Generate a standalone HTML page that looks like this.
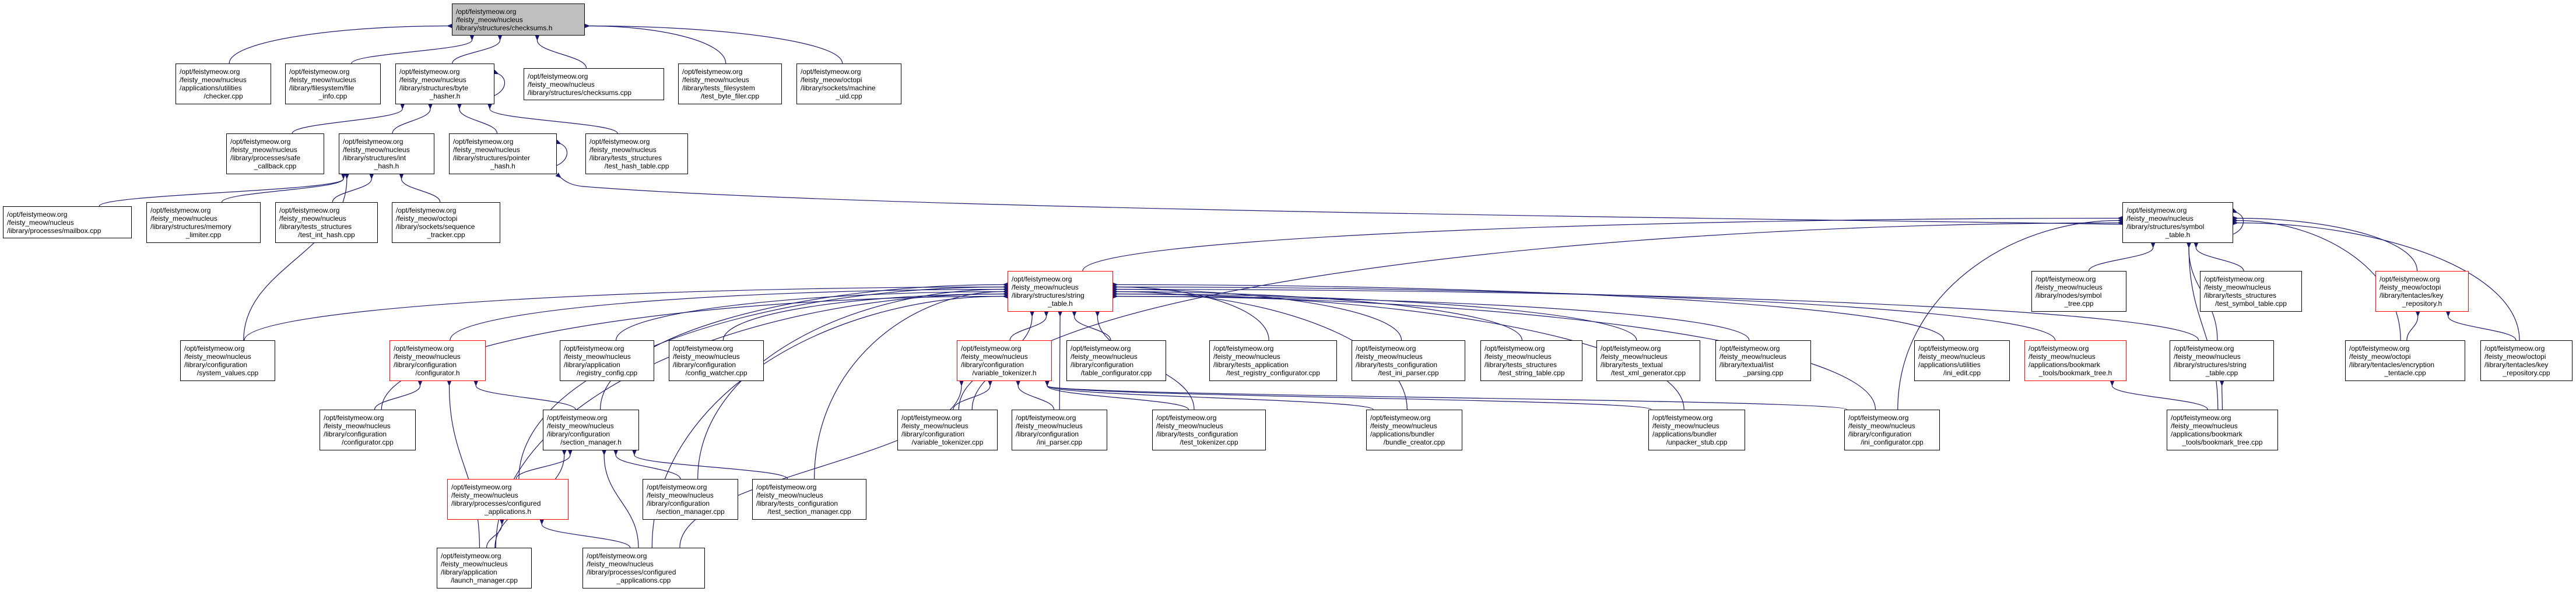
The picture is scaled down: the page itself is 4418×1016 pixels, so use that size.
<!DOCTYPE html>
<html><head><meta charset="utf-8">
<style>
html,body{margin:0;padding:0;background:#fff;}
#c{position:relative;width:4418px;height:1016px;overflow:hidden;}
.n{position:absolute;box-sizing:border-box;border:1px solid #000;background:#fff;font-family:"Liberation Sans",Arial,sans-serif;font-size:12px;line-height:14px;color:#000;padding:0 6px;display:flex;flex-direction:column;justify-content:center;white-space:nowrap;overflow:hidden;}
.n span{display:block;text-align:left}
.n span.l{text-align:center}
.r{border-color:#ff0000}
.g{background:#bfbfbf}
svg{position:absolute;left:0;top:0}
</style></head><body><div id="c">
<svg id="s" width="4418" height="1016" xmlns="http://www.w3.org/2000/svg">
<defs><marker id="a" markerWidth="10" markerHeight="8" refX="1" refY="4" orient="auto-start-reverse" markerUnits="userSpaceOnUse"><path d="M10,0 L0,4 L10,8 z" fill="#191970"/></marker></defs>
<g id="e" fill="none" stroke="#191970" stroke-width="1.2"></g>
</svg>

<div class="n g" id="cs" style="left:775px;top:6px;width:228px;height:55px"><span>/opt/feistymeow.org</span><span>/feisty_meow/nucleus</span><span>/library/structures/checksums.h</span></div>

<div class="n" id="checker" style="left:301px;top:109px;width:164px;height:70px"><span>/opt/feistymeow.org</span><span>/feisty_meow/nucleus</span><span>/applications/utilities</span><span class="l">/checker.cpp</span></div>
<div class="n" id="fileinfo" style="left:489px;top:109px;width:164px;height:70px"><span>/opt/feistymeow.org</span><span>/feisty_meow/nucleus</span><span>/library/filesystem/file</span><span class="l">_info.cpp</span></div>
<div class="n" id="bytehasher" style="left:678px;top:109px;width:170px;height:70px"><span>/opt/feistymeow.org</span><span>/feisty_meow/nucleus</span><span>/library/structures/byte</span><span class="l">_hasher.h</span></div>
<div class="n" id="cscpp" style="left:898px;top:117px;width:241px;height:55px"><span>/opt/feistymeow.org</span><span>/feisty_meow/nucleus</span><span>/library/structures/checksums.cpp</span></div>
<div class="n" id="tbf" style="left:1163px;top:109px;width:178px;height:70px"><span>/opt/feistymeow.org</span><span>/feisty_meow/nucleus</span><span>/library/tests_filesystem</span><span class="l">/test_byte_filer.cpp</span></div>
<div class="n" id="muid" style="left:1366px;top:109px;width:180px;height:70px"><span>/opt/feistymeow.org</span><span>/feisty_meow/octopi</span><span>/library/sockets/machine</span><span class="l">_uid.cpp</span></div>

<div class="n" id="safecb" style="left:388px;top:229px;width:168px;height:70px"><span>/opt/feistymeow.org</span><span>/feisty_meow/nucleus</span><span>/library/processes/safe</span><span class="l">_callback.cpp</span></div>
<div class="n" id="inthash" style="left:581px;top:229px;width:164px;height:70px"><span>/opt/feistymeow.org</span><span>/feisty_meow/nucleus</span><span>/library/structures/int</span><span class="l">_hash.h</span></div>
<div class="n" id="ptrhash" style="left:770px;top:229px;width:185px;height:70px"><span>/opt/feistymeow.org</span><span>/feisty_meow/nucleus</span><span>/library/structures/pointer</span><span class="l">_hash.h</span></div>
<div class="n" id="thash" style="left:1004px;top:229px;width:176px;height:70px"><span>/opt/feistymeow.org</span><span>/feisty_meow/nucleus</span><span>/library/tests_structures</span><span class="l">/test_hash_table.cpp</span></div>

<div class="n" id="mailbox" style="left:5px;top:354px;width:221px;height:55px"><span>/opt/feistymeow.org</span><span>/feisty_meow/nucleus</span><span>/library/processes/mailbox.cpp</span></div>
<div class="n" id="memlim" style="left:251px;top:347px;width:196px;height:70px"><span>/opt/feistymeow.org</span><span>/feisty_meow/nucleus</span><span>/library/structures/memory</span><span class="l">_limiter.cpp</span></div>
<div class="n" id="tih" style="left:472px;top:347px;width:176px;height:70px"><span>/opt/feistymeow.org</span><span>/feisty_meow/nucleus</span><span>/library/tests_structures</span><span class="l">/test_int_hash.cpp</span></div>
<div class="n" id="seqtr" style="left:672px;top:347px;width:186px;height:70px"><span>/opt/feistymeow.org</span><span>/feisty_meow/octopi</span><span>/library/sockets/sequence</span><span class="l">_tracker.cpp</span></div>
<div class="n" id="symtab" style="left:3640px;top:347px;width:190px;height:70px"><span>/opt/feistymeow.org</span><span>/feisty_meow/nucleus</span><span>/library/structures/symbol</span><span class="l">_table.h</span></div>

<div class="n r" id="strtab" style="left:1728px;top:465px;width:181px;height:70px"><span>/opt/feistymeow.org</span><span>/feisty_meow/nucleus</span><span>/library/structures/string</span><span class="l">_table.h</span></div>
<div class="n" id="symtree" style="left:3484px;top:465px;width:163px;height:70px"><span>/opt/feistymeow.org</span><span>/feisty_meow/nucleus</span><span>/library/nodes/symbol</span><span class="l">_tree.cpp</span></div>
<div class="n" id="tsymt" style="left:3773px;top:465px;width:175px;height:70px"><span>/opt/feistymeow.org</span><span>/feisty_meow/nucleus</span><span>/library/tests_structures</span><span class="l">/test_symbol_table.cpp</span></div>
<div class="n r" id="keyreph" style="left:4074px;top:465px;width:160px;height:70px"><span>/opt/feistymeow.org</span><span>/feisty_meow/octopi</span><span>/library/tentacles/key</span><span class="l">_repository.h</span></div>

<div class="n" id="sysval" style="left:309px;top:584px;width:163px;height:70px"><span>/opt/feistymeow.org</span><span>/feisty_meow/nucleus</span><span>/library/configuration</span><span class="l">/system_values.cpp</span></div>
<div class="n r" id="confh" style="left:668px;top:584px;width:165px;height:70px"><span>/opt/feistymeow.org</span><span>/feisty_meow/nucleus</span><span>/library/configuration</span><span class="l">/configurator.h</span></div>
<div class="n" id="regcfg" style="left:960px;top:584px;width:162px;height:70px"><span>/opt/feistymeow.org</span><span>/feisty_meow/nucleus</span><span>/library/application</span><span class="l">/registry_config.cpp</span></div>
<div class="n" id="cfgw" style="left:1147px;top:584px;width:163px;height:70px"><span>/opt/feistymeow.org</span><span>/feisty_meow/nucleus</span><span>/library/configuration</span><span class="l">/config_watcher.cpp</span></div>
<div class="n r" id="vtokh" style="left:1641px;top:584px;width:163px;height:70px"><span>/opt/feistymeow.org</span><span>/feisty_meow/nucleus</span><span>/library/configuration</span><span class="l">/variable_tokenizer.h</span></div>
<div class="n" id="tblcfg" style="left:1829px;top:584px;width:171px;height:70px"><span>/opt/feistymeow.org</span><span>/feisty_meow/nucleus</span><span>/library/configuration</span><span class="l">/table_configurator.cpp</span></div>
<div class="n" id="treg" style="left:2074px;top:584px;width:219px;height:70px"><span>/opt/feistymeow.org</span><span>/feisty_meow/nucleus</span><span>/library/tests_application</span><span class="l">/test_registry_configurator.cpp</span></div>
<div class="n" id="tini" style="left:2318px;top:584px;width:195px;height:70px"><span>/opt/feistymeow.org</span><span>/feisty_meow/nucleus</span><span>/library/tests_configuration</span><span class="l">/test_ini_parser.cpp</span></div>
<div class="n" id="tstr" style="left:2539px;top:584px;width:175px;height:70px"><span>/opt/feistymeow.org</span><span>/feisty_meow/nucleus</span><span>/library/tests_structures</span><span class="l">/test_string_table.cpp</span></div>
<div class="n" id="txml" style="left:2738px;top:584px;width:178px;height:70px"><span>/opt/feistymeow.org</span><span>/feisty_meow/nucleus</span><span>/library/tests_textual</span><span class="l">/test_xml_generator.cpp</span></div>
<div class="n" id="listp" style="left:2942px;top:584px;width:164px;height:70px"><span>/opt/feistymeow.org</span><span>/feisty_meow/nucleus</span><span>/library/textual/list</span><span class="l">_parsing.cpp</span></div>
<div class="n" id="iniedit" style="left:3283px;top:584px;width:164px;height:70px"><span>/opt/feistymeow.org</span><span>/feisty_meow/nucleus</span><span>/applications/utilities</span><span class="l">/ini_edit.cpp</span></div>
<div class="n r" id="bmh" style="left:3472px;top:584px;width:175px;height:70px"><span>/opt/feistymeow.org</span><span>/feisty_meow/nucleus</span><span>/applications/bookmark</span><span class="l">_tools/bookmark_tree.h</span></div>
<div class="n" id="strcpp" style="left:3721px;top:584px;width:179px;height:70px"><span>/opt/feistymeow.org</span><span>/feisty_meow/nucleus</span><span>/library/structures/string</span><span class="l">_table.cpp</span></div>
<div class="n" id="enct" style="left:4022px;top:584px;width:206px;height:70px"><span>/opt/feistymeow.org</span><span>/feisty_meow/octopi</span><span>/library/tentacles/encryption</span><span class="l">_tentacle.cpp</span></div>
<div class="n" id="keyrcpp" style="left:4254px;top:584px;width:158px;height:70px"><span>/opt/feistymeow.org</span><span>/feisty_meow/octopi</span><span>/library/tentacles/key</span><span class="l">_repository.cpp</span></div>

<div class="n" id="confcpp" style="left:548px;top:703px;width:165px;height:70px"><span>/opt/feistymeow.org</span><span>/feisty_meow/nucleus</span><span>/library/configuration</span><span class="l">/configurator.cpp</span></div>
<div class="n" id="secmh" style="left:931px;top:703px;width:165px;height:70px"><span>/opt/feistymeow.org</span><span>/feisty_meow/nucleus</span><span>/library/configuration</span><span class="l">/section_manager.h</span></div>
<div class="n" id="vtokcpp" style="left:1539px;top:703px;width:172px;height:70px"><span>/opt/feistymeow.org</span><span>/feisty_meow/nucleus</span><span>/library/configuration</span><span class="l">/variable_tokenizer.cpp</span></div>
<div class="n" id="iniparse" style="left:1735px;top:703px;width:164px;height:70px"><span>/opt/feistymeow.org</span><span>/feisty_meow/nucleus</span><span>/library/configuration</span><span class="l">/ini_parser.cpp</span></div>
<div class="n" id="ttok" style="left:1976px;top:703px;width:195px;height:70px"><span>/opt/feistymeow.org</span><span>/feisty_meow/nucleus</span><span>/library/tests_configuration</span><span class="l">/test_tokenizer.cpp</span></div>
<div class="n" id="bundle" style="left:2343px;top:703px;width:165px;height:70px"><span>/opt/feistymeow.org</span><span>/feisty_meow/nucleus</span><span>/applications/bundler</span><span class="l">/bundle_creator.cpp</span></div>
<div class="n" id="unpack" style="left:2827px;top:703px;width:166px;height:70px"><span>/opt/feistymeow.org</span><span>/feisty_meow/nucleus</span><span>/applications/bundler</span><span class="l">/unpacker_stub.cpp</span></div>
<div class="n" id="iniconf" style="left:3163px;top:703px;width:164px;height:70px"><span>/opt/feistymeow.org</span><span>/feisty_meow/nucleus</span><span>/library/configuration</span><span class="l">/ini_configurator.cpp</span></div>
<div class="n" id="bmcpp" style="left:3716px;top:703px;width:191px;height:70px"><span>/opt/feistymeow.org</span><span>/feisty_meow/nucleus</span><span>/applications/bookmark</span><span class="l">_tools/bookmark_tree.cpp</span></div>

<div class="n r" id="capph" style="left:767px;top:822px;width:208px;height:70px"><span>/opt/feistymeow.org</span><span>/feisty_meow/nucleus</span><span>/library/processes/configured</span><span class="l">_applications.h</span></div>
<div class="n" id="secmcpp" style="left:1102px;top:822px;width:164px;height:70px"><span>/opt/feistymeow.org</span><span>/feisty_meow/nucleus</span><span>/library/configuration</span><span class="l">/section_manager.cpp</span></div>
<div class="n" id="tsecm" style="left:1290px;top:822px;width:196px;height:70px"><span>/opt/feistymeow.org</span><span>/feisty_meow/nucleus</span><span>/library/tests_configuration</span><span class="l">/test_section_manager.cpp</span></div>

<div class="n" id="launch" style="left:749px;top:940px;width:163px;height:70px"><span>/opt/feistymeow.org</span><span>/feisty_meow/nucleus</span><span>/library/application</span><span class="l">/launch_manager.cpp</span></div>
<div class="n" id="cappcpp" style="left:999px;top:940px;width:210px;height:70px"><span>/opt/feistymeow.org</span><span>/feisty_meow/nucleus</span><span>/library/processes/configured</span><span class="l">_applications.cpp</span></div>
</div>
<script>
(function(){
var E=[
['checker','cs'],['fileinfo','cs'],['bytehasher','cs'],['cscpp','cs'],['tbf','cs'],['muid','cs'],
['safecb','bytehasher'],['inthash','bytehasher'],['ptrhash','bytehasher'],['thash','bytehasher'],
['mailbox','inthash'],['memlim','inthash'],['tih','inthash'],['seqtr','inthash'],['sysval','inthash'],
['strtab','symtab'],['symtree','symtab'],['tsymt','symtab'],['keyreph','symtab'],['enct','symtab'],['keyrcpp','symtab'],['strcpp','symtab'],['bmcpp','symtab'],['iniconf','symtab'],['vtokcpp','symtab'],
['sysval','strtab'],['confh','strtab'],['regcfg','strtab'],['cfgw','strtab'],['vtokh','strtab'],['tblcfg','strtab'],['treg','strtab'],['tini','strtab'],['tstr','strtab'],['txml','strtab'],['listp','strtab'],['iniedit','strtab'],['bmh','strtab'],['strcpp','strtab'],
['confcpp','strtab'],['secmh','strtab'],['vtokcpp','strtab'],['iniparse','strtab'],['ttok','strtab'],['bundle','strtab'],['unpack','strtab'],['iniconf','strtab'],
['capph','strtab'],['secmcpp','strtab'],['tsecm','strtab'],['launch','strtab'],['cappcpp','strtab'],
['confcpp','confh'],['launch','confh'],['secmh','confh'],
['capph','secmh'],['launch','secmh'],['cappcpp','secmh'],['secmcpp','secmh'],['tsecm','secmh'],
['launch','capph'],['cappcpp','capph'],
['vtokcpp','vtokh'],['iniparse','vtokh'],['ttok','vtokh'],['bundle','vtokh'],['unpack','vtokh'],['iniconf','vtokh'],['cappcpp','vtokh'],
['bmcpp','bmh'],['bmcpp','strcpp'],['enct','keyreph'],['keyrcpp','keyreph']
];
var SIDE={strtab:1,symtab:1,cs:1};
function b(id){var e=document.getElementById(id);var l=parseFloat(e.style.left),t=parseFloat(e.style.top),w=parseFloat(e.style.width),h=parseFloat(e.style.height);return{l:l,t:t,w:w,h:h,cx:l+w/2,b:t+h,r:l+w};}
var g=document.getElementById('e');
var ns='http://www.w3.org/2000/svg';
var sideCount={};
function add(p){var q=document.createElementNS(ns,'path');q.setAttribute('d',p);q.setAttribute('marker-end','url(#a)');g.appendChild(q);}
E.forEach(function(x){var c=b(x[0]),p=b(x[1]);
 var dxAll=c.cx-p.cx;
 if(SIDE[x[1]] && Math.abs(dxAll)>350){
   var left=dxAll<0;var key=x[1]+(left?'L':'R');sideCount[key]=(sideCount[key]||0)+1;
   var k=sideCount[key];
   var px=left?p.l-8:p.r+8;var py=(x[1]=='cs'?p.t+p.h*0.7:p.t+p.h*0.45+((k%6)-2)*4);
   var sx=c.cx+(left?1:-1)*Math.min(c.w/2-10,Math.abs(dxAll)*0.02);var sy=c.t;
   var hx=(px-sx);
   add('M'+sx+','+sy+' C'+sx+','+(sy-(sy-py)*0.6)+' '+(px-hx*0.5)+','+py+' '+px+','+py);
   return;
 }
 var off=dxAll*0.25;var m=p.w/2-8;if(off>m)off=m;if(off<-m)off=-m;
 var px2=p.cx+off,py2=p.b+8;
 var sx2=c.cx-dxAll*0.1; if(Math.abs(sx2-c.cx)>c.w/2-5)sx2=c.cx+Math.sign(sx2-c.cx)*(c.w/2-5);
 var sy2=c.t;var dy=sy2-py2;
 add('M'+sx2+','+sy2+' C'+sx2+','+(sy2-dy*0.45)+' '+px2+','+(py2+dy*0.45)+' '+px2+','+py2);
});
add('M3640,385 C3000,375 1500,360 1000,320 C980,318 970,312 962,305');
['bytehasher','ptrhash','symtab'].forEach(function(id){var n=b(id);
 add('M'+n.r+','+(n.b-15)+' C'+(n.r+22)+','+(n.b-25)+' '+(n.r+22)+','+(n.t+25)+' '+(n.r+7)+','+(n.t+18));});
})();
</script>
</body></html>
